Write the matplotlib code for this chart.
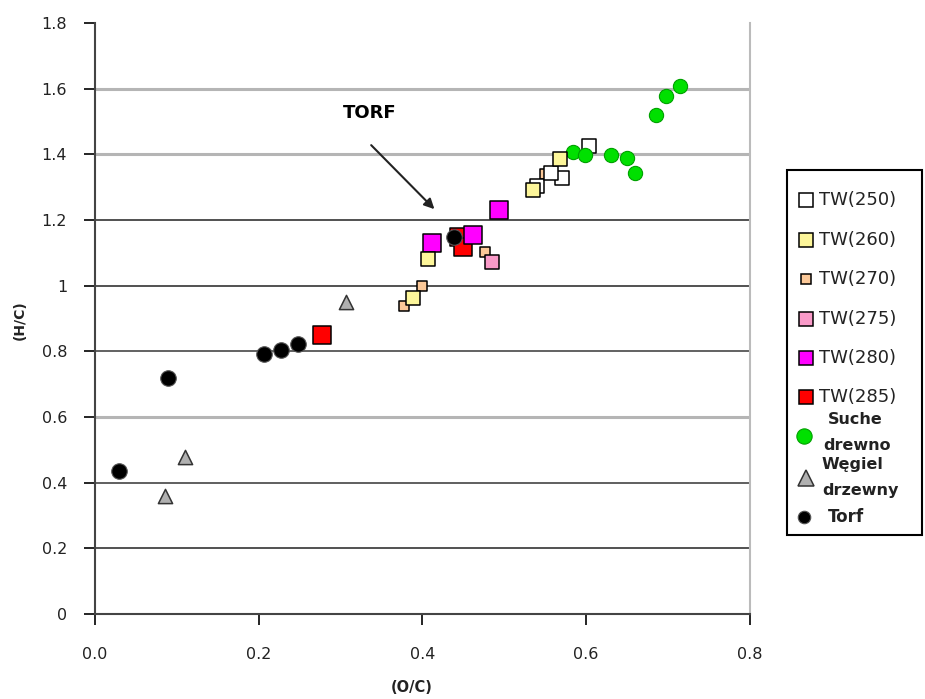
import numpy as np
import matplotlib.pyplot as plt
from matplotlib.lines import Line2D
from matplotlib.patches import Rectangle

# series (O/C, H/C)
tw250_x = [0.604, 0.571, 0.540, 0.557]
tw250_y = [1.425, 1.327, 1.303, 1.342]
tw260_x = [0.568, 0.535, 0.407, 0.389]
tw260_y = [1.385, 1.291, 1.081, 0.962]
tw270_x = [0.550, 0.399, 0.377, 0.476]
tw270_y = [1.339, 0.998, 0.938, 1.102]
tw275_x = [0.485]
tw275_y = [1.072]
tw280_x = [0.493, 0.412, 0.462]
tw280_y = [1.230, 1.129, 1.154]
tw285_x = [0.445, 0.449, 0.277]
tw285_y = [1.148, 1.117, 0.849]
drewno_x = [0.584, 0.598, 0.630, 0.650, 0.660, 0.685, 0.698, 0.715]
drewno_y = [1.406, 1.397, 1.397, 1.388, 1.342, 1.519, 1.577, 1.607]
wegiel_x = [0.085, 0.110, 0.307]
wegiel_y = [0.359, 0.478, 0.950]
torf_x = [0.029, 0.089, 0.207, 0.227, 0.248, 0.439]
torf_y = [0.435, 0.718, 0.791, 0.804, 0.822, 1.148]

labels = ['TW(250)', 'TW(260)', 'TW(270)', 'TW(275)', 'TW(280)', 'TW(285)',
          'Suche\ndrewno', 'Węgiel\ndrzewny', 'Torf']

plt.rcParams['font.family'] = ['DejaVu Sans']

W, H = 925, 699
fig = plt.figure(figsize=(W / 100, H / 100), dpi=100)
ax = fig.add_axes([0.1027, 0.1216, 0.708, 0.8455])

# gridlines, mixed grey/black like the scanned original
grid_style = {1.6: ('#b5b5b5', 2.2), 1.4: ('#b5b5b5', 2.2), 1.2: ('#222222', 1.1),
              1.0: ('#222222', 1.1), 0.8: ('#555555', 1.3), 0.6: ('#b5b5b5', 2.2),
              0.4: ('#444444', 1.2), 0.2: ('#222222', 1.1)}
for yv, (c, lw) in grid_style.items():
    ax.axhline(yv, color=c, lw=lw, zorder=0)

# marker styles: (marker, scatter size, legend size, face, edge, edge width)
styles = [
    ('s', 105, 10, 'white', 'black', 1.1),
    ('s', 105, 10, '#fdf69a', 'black', 1.1),
    ('s', 55, 7, '#fbc898', 'black', 1.1),
    ('s', 105, 10, '#f99ac8', 'black', 1.1),
    ('s', 155, 10, '#ff00ff', 'black', 1.1),
    ('s', 150, 10, '#ff0000', 'black', 1.1),
    ('o', 105, 11, '#00e000', '#00a000', 0.8),
    ('^', 105, 11, '#b0b0b0', '#333333', 1.1),
    ('o', 125, 9, 'black', '#555555', 0.8),
]
series = [(tw250_x, tw250_y), (tw260_x, tw260_y), (tw270_x, tw270_y), (tw275_x, tw275_y),
          (tw280_x, tw280_y), (tw285_x, tw285_y), (drewno_x, drewno_y),
          (wegiel_x, wegiel_y), (torf_x, torf_y)]
zorders = [3, 4, 3, 3, 3, 3, 3, 3, 5]
draw_order = [2, 3, 0, 1, 5, 4, 6, 7, 8]
for i in draw_order:
    m, s, _, fc, ec, lw = styles[i]
    xs, ys = series[i]
    ax.scatter(xs, ys, marker=m, s=s, c=fc, edgecolors=ec, linewidths=lw, zorder=zorders[i])

ax.set_xlim(0, 0.8)
ax.set_ylim(0, 1.8)
ax.set_xticks([0.0, 0.2, 0.4, 0.6, 0.8])
ax.set_xticklabels(['0.0', '0.2', '0.4', '0.6', '0.8'])
ax.set_yticks([0, 0.2, 0.4, 0.6, 0.8, 1, 1.2, 1.4, 1.6, 1.8])
ax.set_yticklabels(['0', '0.2', '0.4', '0.6', '0.8', '1', '1.2', '1.4', '1.6', '1.8'])
ax.tick_params(axis='y', length=8, width=1.2, pad=12, labelsize=11.5, labelcolor='#222222')
ax.tick_params(axis='x', length=8, width=1.2, pad=16, labelsize=11.5, labelcolor='#222222')

ax.spines['top'].set_visible(False)
ax.spines['right'].set_color('#bbbbbb')
ax.spines['right'].set_linewidth(1.5)
for side in ['left', 'bottom']:
    ax.spines[side].set_color('#444444')
    ax.spines[side].set_linewidth(1.5)

fig.text(20 / W, 1 - 320 / H, '(H/C)', rotation=90, fontsize=10, fontweight='bold',
         ha='center', va='center', color='#222222')
fig.text(412 / W, 1 - 687 / H, '(O/C)', fontsize=10.5, fontweight='bold',
         ha='center', va='center', color='#222222')

ax.annotate('', xy=(0.417, 1.227), xytext=(0.335, 1.434),
            arrowprops=dict(arrowstyle='-|>', color='#222222', lw=1.5, mutation_scale=15))
ax.text(0.335, 1.525, 'TORF', fontsize=13, fontweight='bold', ha='center', va='center')

# legend box drawn by hand (the original has uneven spacing)
fig.patches.append(Rectangle((787 / W, 1 - 535 / H), 135 / W, 365 / H, transform=fig.transFigure,
                             facecolor='white', edgecolor='black', lw=1.5))
marker_y = [200, 240, 279, 319, 358, 397, 436, 478, 517]
marker_x = [806, 806, 806, 806, 806, 806, 804, 806, 804]
for i, (lab, my) in enumerate(zip(labels, marker_y)):
    m, _, ms, fc, ec, lw = styles[i]
    fig.add_artist(Line2D([marker_x[i] / W], [1 - my / H], ls='', marker=m, ms=ms,
                          mfc=fc, mec=ec, mew=lw, transform=fig.transFigure))
    if '\n' not in lab:
        bold = i == 8
        fig.text((828 if bold else 819) / W, 1 - my / H, lab,
                 fontsize=12 if bold else 13, fontweight='bold' if bold else 'normal',
                 ha='left', va='center', color='#222222')
# two-line labels placed line by line, as in the original
bold_lines = [(labels[6].split('\n')[0], 828, 420), (labels[6].split('\n')[1], 823, 446),
              (labels[7].split('\n')[0], 822, 465), (labels[7].split('\n')[1], 822, 491)]
for txt, px, py in bold_lines:
    fig.text(px / W, 1 - py / H, txt, fontsize=11.5, fontweight='bold', va='center', color='#222222')

fig.savefig('out.png', dpi=100)
